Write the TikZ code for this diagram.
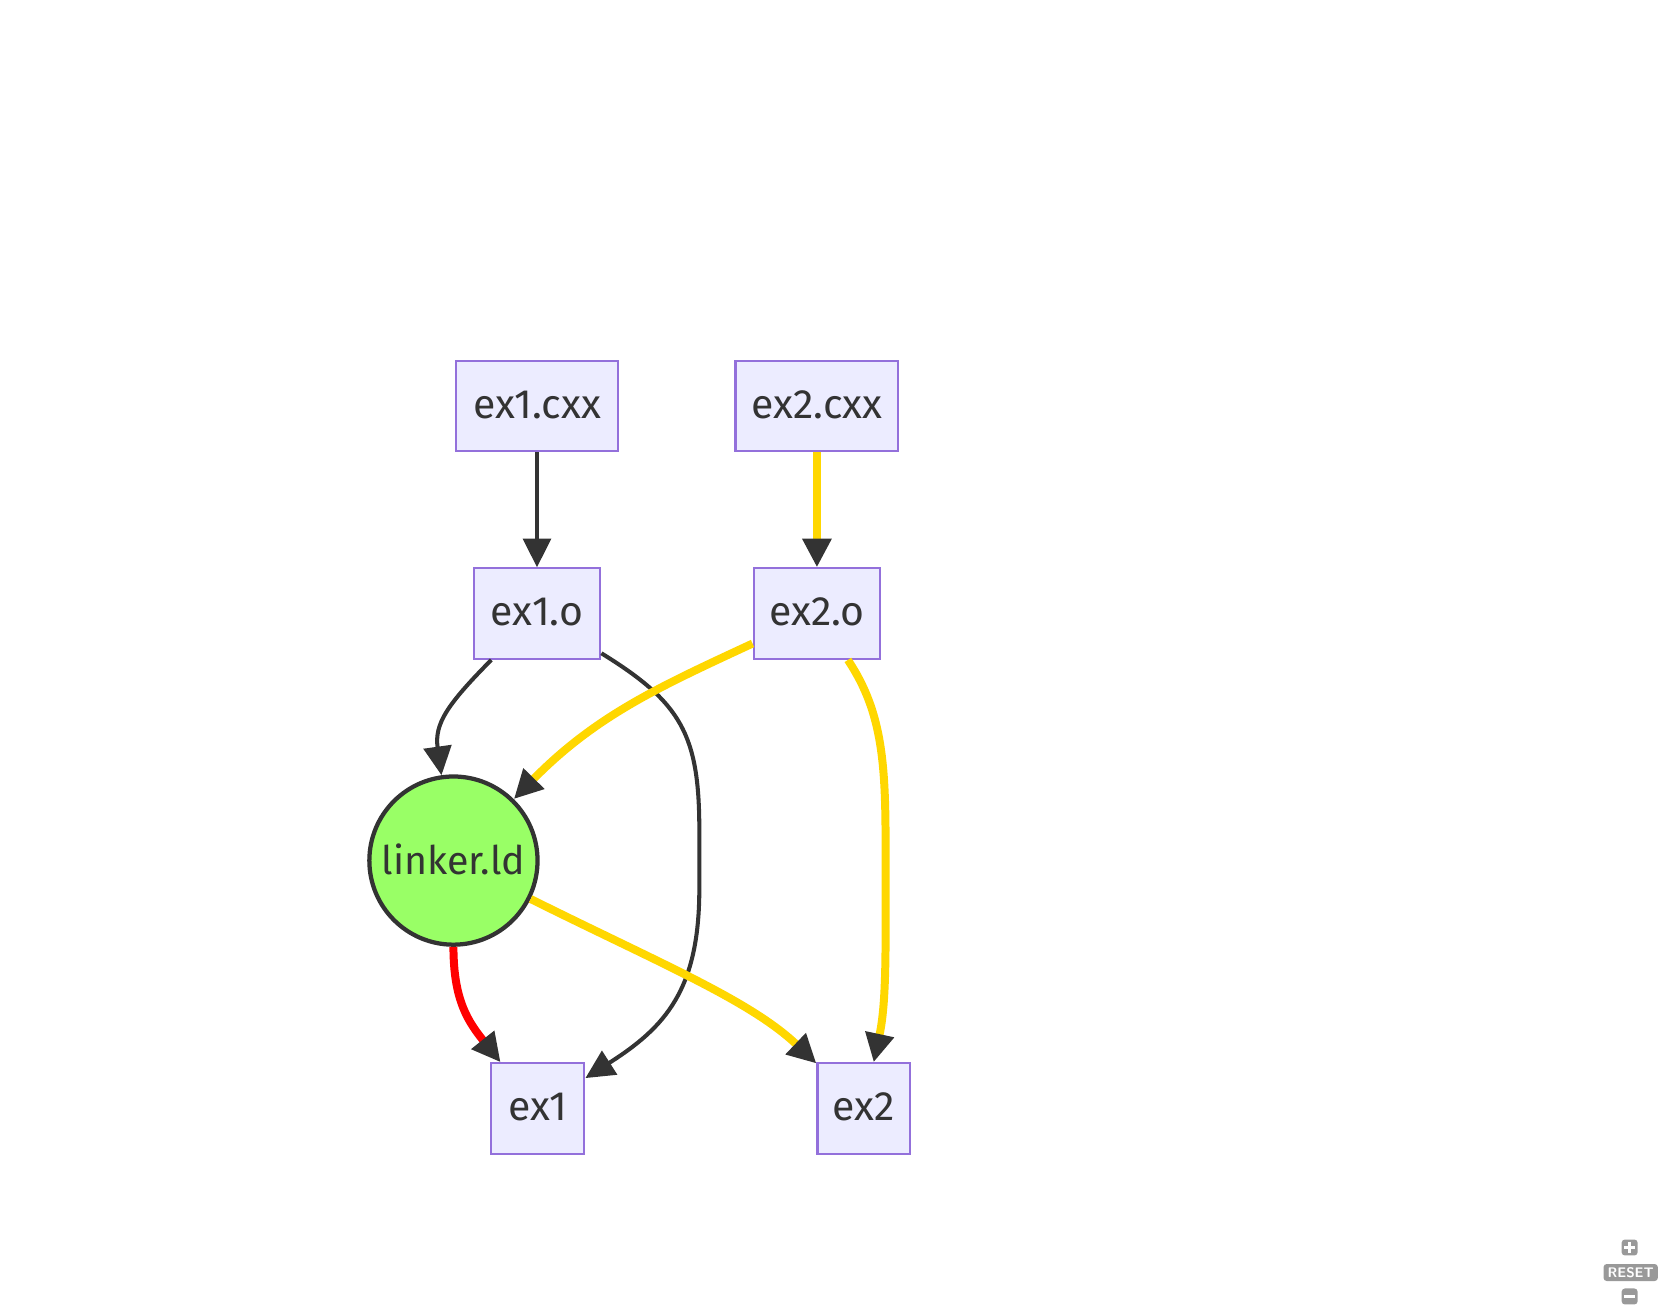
\documentclass[tikz,border=0pt]{standalone}
\usepackage{fontspec}
\setmainfont{Fira Sans}
\usetikzlibrary{arrows.meta}
\definecolor{boxfill}{HTML}{ECECFF}
\definecolor{boxline}{HTML}{9370DB}
\definecolor{dark}{HTML}{333333}
\definecolor{gold}{HTML}{FFD700}
\definecolor{lgreen}{HTML}{99FF66}
\definecolor{ctl}{HTML}{999999}
\newcommand{\lift}[1]{\raisebox{3pt}{#1}}
\begin{document}
\begin{tikzpicture}[x=1pt,y=-1pt,
  boxnode/.style={draw=boxline,fill=boxfill,line width=2pt,inner sep=0pt,minimum height=85pt,text=dark,font=\fontsize{38.5}{42}\selectfont},
  circnode/.style={circle,draw=dark,fill=lgreen,line width=4pt,inner sep=0pt,minimum size=158pt,text=dark,font=\fontsize{37}{42}\selectfont},
  tip/.style={-{Triangle[length=27pt,width=26pt,color=dark,fill=dark]}},
  blackedge/.style={tip,draw=dark,line width=3.8pt},
  goldedge/.style={tip,draw=gold,line width=7.5pt},
  rededge/.style={tip,draw=red,line width=7.5pt},
  ctrl/.style={fill=ctl,rounded corners=3pt,inner sep=0pt,text=white,font=\sffamily\bfseries\fontsize{13}{14}\selectfont}
]
\useasboundingbox (0,0) rectangle (1568,1234);
\node[boxnode,minimum width=153pt] (e1cxx) at (504.5,381.5) {\lift{ex1.cxx}};
\node[boxnode,minimum width=153pt] (e2cxx) at (767.5,381.5) {\lift{ex2.cxx}};
\node[boxnode,minimum width=119pt] (e1o) at (504.5,576.5) {\lift{ex1.o}};
\node[boxnode,minimum width=119pt] (e2o) at (767.5,576.5) {\lift{ex2.o}};
\node[circnode] (lk) at (426,808.5) {\lift{linker.ld}};
\node[boxnode,minimum width=88pt] (e1) at (505,1041.5) {\lift{ex1}};
\node[boxnode,minimum width=87pt] (e2) at (811.5,1041.5) {\lift{ex2}};

\draw[blackedge] (e1cxx) -- (e1o);
\draw[goldedge] (e2cxx) -- (e2o);
\draw[blackedge] (e1o) .. controls (420,662) and (408,680) .. (lk);
\draw[blackedge] (e1o) .. controls (640,660) and (657,690) .. (657,780) -- (657,835) .. controls (657,930) and (625,965) .. (e1);
\draw[goldedge] (e2o) .. controls (620,645) and (560,672) .. (lk);
\draw[goldedge] (e2o) .. controls (830,670) and (832,720) .. (832,800) -- (832,875) .. controls (832,930) and (830,955) .. (e2);
\draw[rededge] (lk) .. controls (426,940) and (440,960) .. (e1);
\draw[goldedge] (lk) .. controls (620,905) and (705,940) .. (e2);

\node[ctrl,minimum width=15pt,minimum height=15pt] (plus) at (1531,1172) {};
\draw[white,line width=2.5pt] ([xshift=-5pt]plus.center) -- ([xshift=5pt]plus.center) ([yshift=-5pt]plus.center) -- ([yshift=5pt]plus.center);
\node[ctrl,minimum width=51pt,minimum height=16pt] (reset) at (1532,1195.5) {RESET};
\node[ctrl,minimum width=15pt,minimum height=15pt] (minus) at (1531,1218) {};
\draw[white,line width=2.5pt] ([xshift=-5pt]minus.center) -- ([xshift=5pt]minus.center);
\end{tikzpicture}
\end{document}
